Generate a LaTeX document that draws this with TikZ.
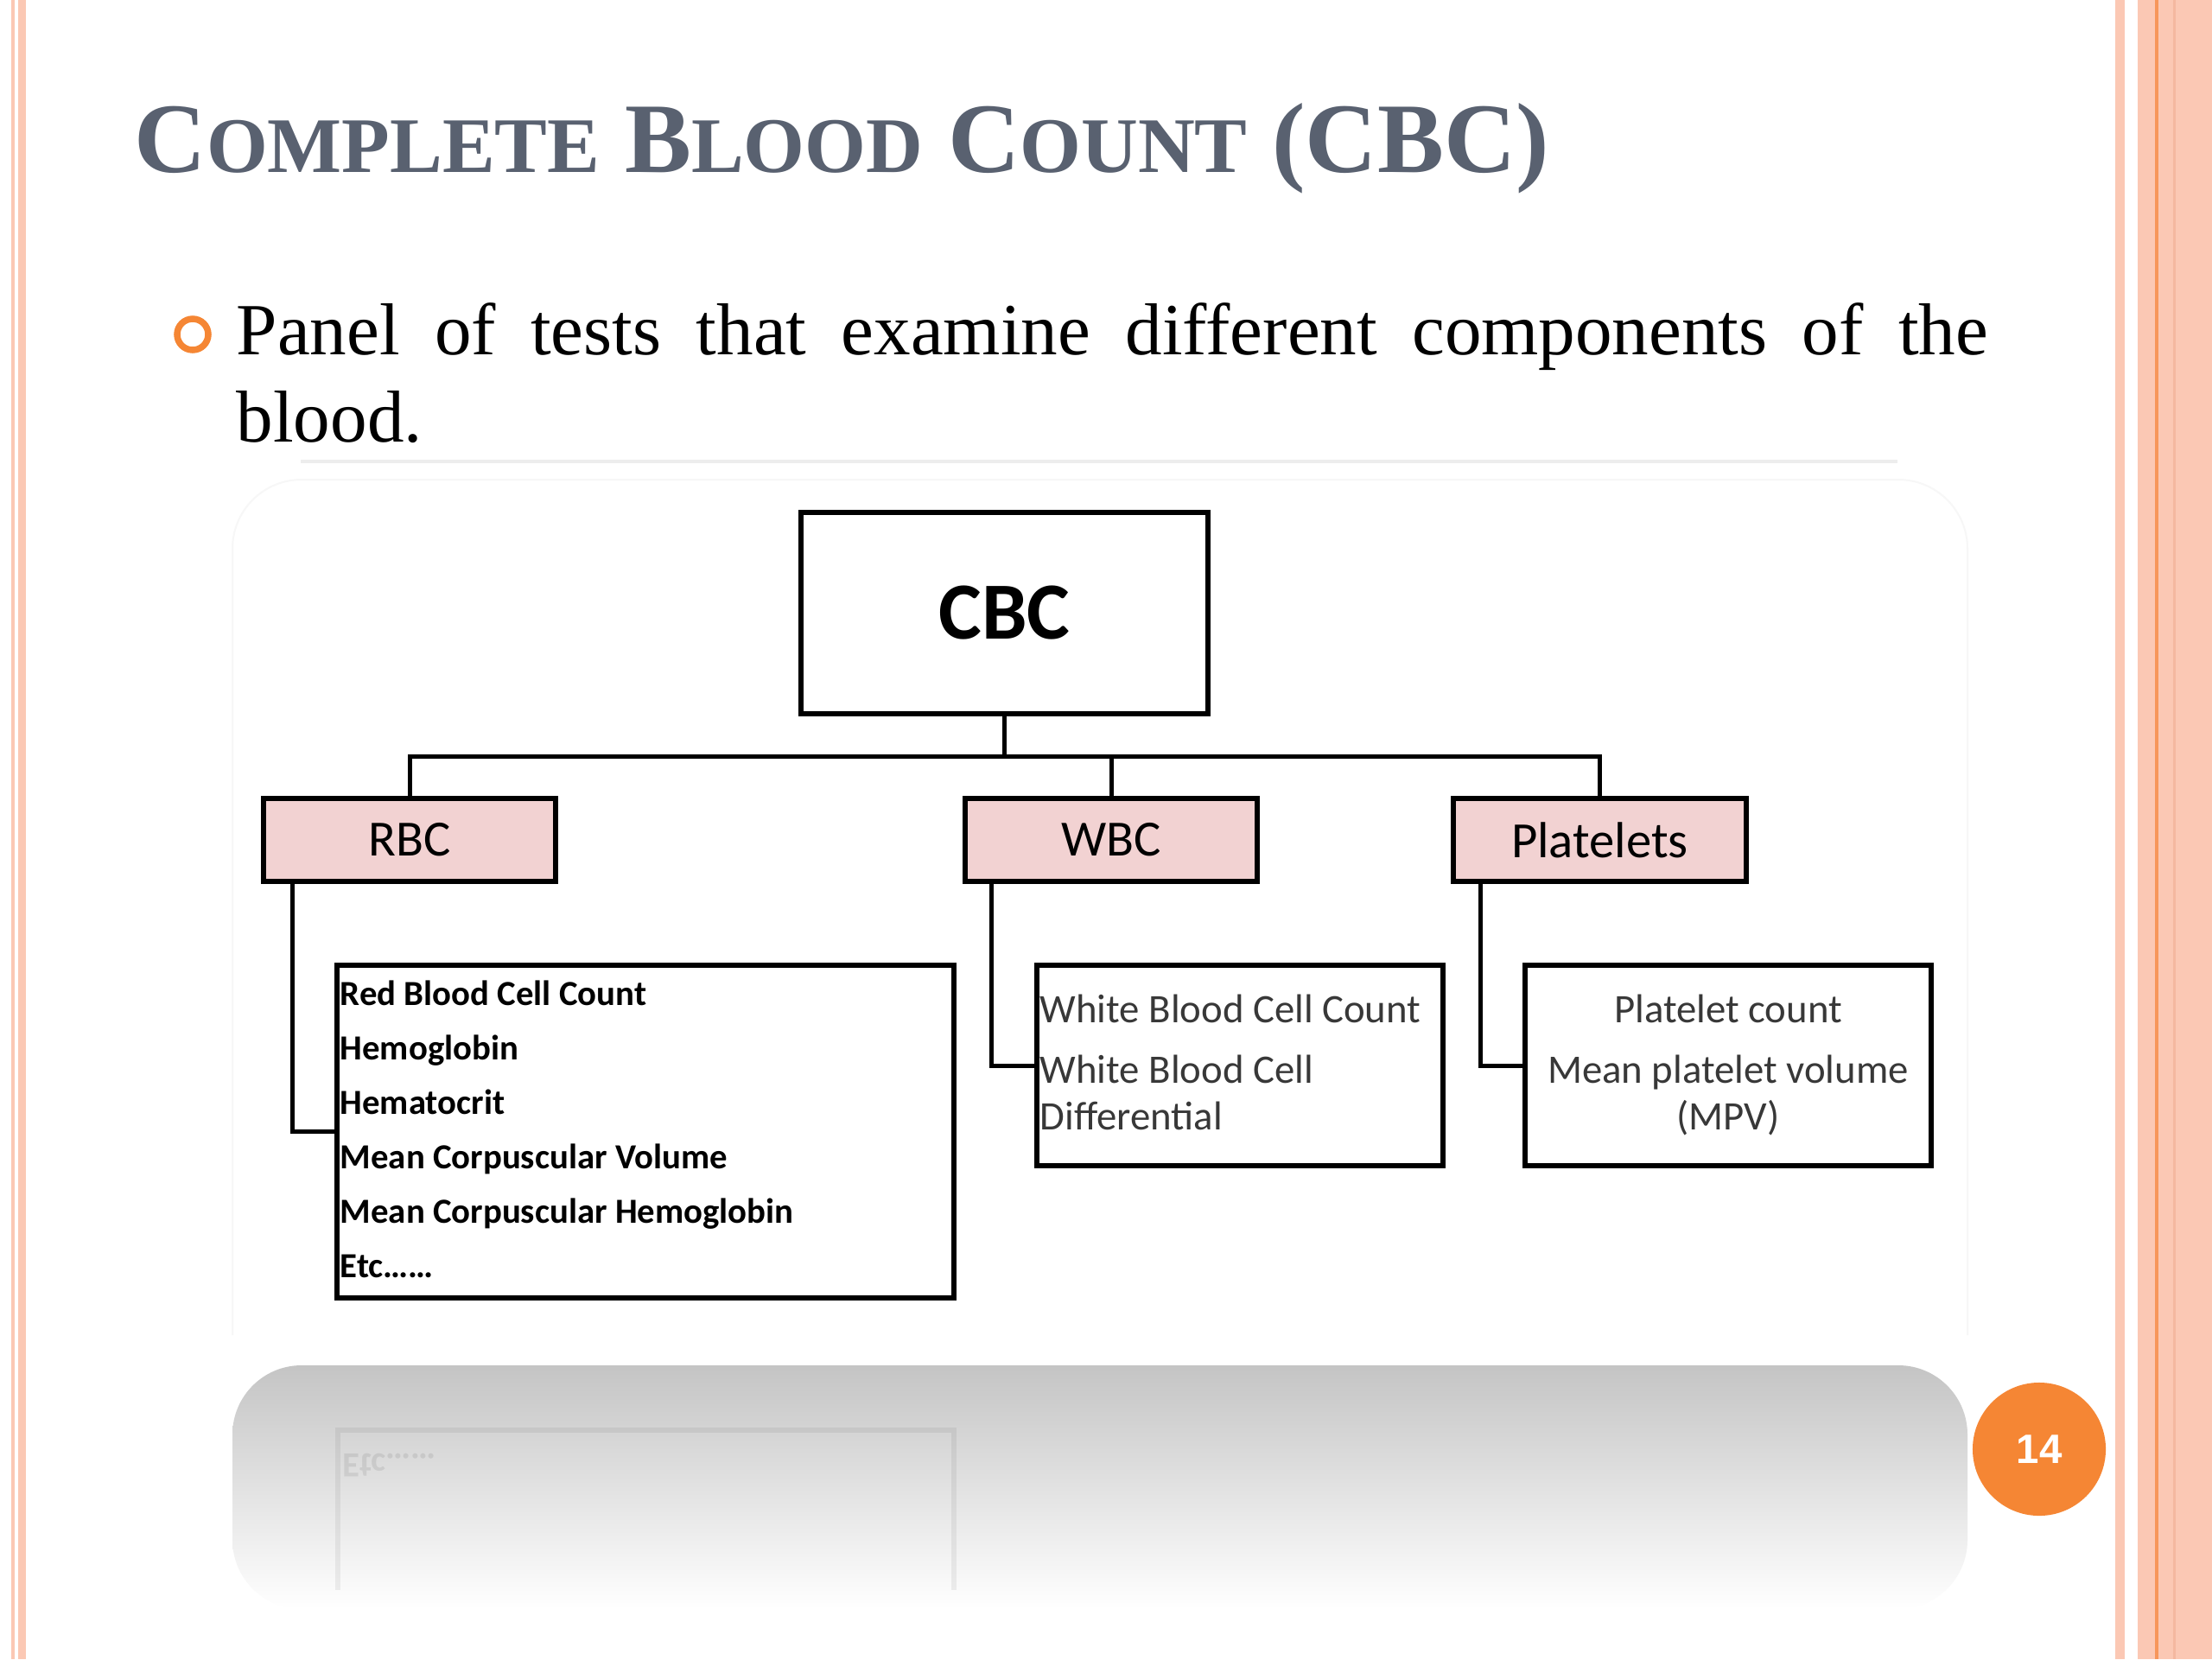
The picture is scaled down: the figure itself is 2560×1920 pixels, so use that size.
\documentclass[tikz,border=0pt]{standalone}
\usepackage{fontspec}
\setmainfont{Liberation Serif}
\newfontfamily\calibri{Carlito}
\newfontfamily\arialfont{Liberation Sans}
\usetikzlibrary{positioning}

\definecolor{titlegray}{RGB}{89,97,112}
\definecolor{slideorange}{RGB}{245,134,52}
\definecolor{peach}{RGB}{251,200,180}
\definecolor{peachdark}{RGB}{244,184,160}
\definecolor{peachline}{RGB}{247,150,90}
\definecolor{boxpink}{RGB}{242,210,210}

\newcommand{\capsmall}[2]{{\fontsize{32.8}{36}\selectfont #1}{\fontsize{25.9}{30}\selectfont #2}}

\begin{document}
\begin{tikzpicture}[x=0.01cm,y=-0.01cm,
	headbox/.style={draw,line width=0.06cm,minimum width=4.71cm,minimum height=2.33cm,font=\calibri\bfseries\fontsize{26.7}{30}\selectfont},
	groupbox/.style={draw,fill=boxpink,line width=0.06cm,minimum width=3.38cm,minimum height=0.96cm,font=\calibri\fontsize{16.7}{20}\selectfont},
	listbox/.style={draw,line width=0.06cm,minimum width=4.69cm,minimum height=2.32cm},
	listtext/.style={inner sep=0pt,anchor=base west,align=left,text=black!78,font=\calibri\fontsize{13.3}{15.1}\selectfont},
	link/.style={line width=0.05cm}]
	\useasboundingbox (0,0) rectangle (2560,1920);
	\fill[white] (0,0) rectangle (2560,1920);
	% slide frame
	\fill[peach] (13,0) rectangle (17,1920);
	\fill[peach] (21,0) rectangle (30,1920);
	\fill[peach] (2448,0) rectangle (2459,1920);
	\fill[peach] (2474,0) rectangle (2560,1920);
	\fill[peachline] (2494,0) rectangle (2498,1920);
	\fill[peachdark] (2515,0) rectangle (2518,1920);
	% title and bullet
	\node[anchor=base west,inner sep=0pt,text=titlegray,font=\bfseries\fontsize{32.8}{36}\selectfont] (title) at (155,199)
		{\capsmall{C}{OMPLETE} \capsmall{B}{LOOD} \capsmall{C}{OUNT} (CBC)};
	\node[circle,draw=slideorange,line width=0.075cm,minimum size=0.36cm,inner sep=0pt] (bullet) at (223,387) {};
	\node[anchor=base west,inner sep=0pt,font=\fontsize{24.2}{28}\selectfont] (line1) at (273,410)
		{\makebox[20.26cm][s]{Panel of tests that examine different components of the}};
	\node[anchor=base west,inner sep=0pt,font=\fontsize{24.2}{28}\selectfont] (line2) at (273,511) {blood.};
	\draw[black!7,line width=0.04cm] (348,534) -- (2196,534);
	\draw[black!3,line width=0.02cm,rounded corners=0.8cm] (269,1545) -- (269,555) -- (2277,555) -- (2277,1545);
	% reflection
	\shade[top color=black!23,middle color=black!15,bottom color=white,rounded corners=0.8cm] (269,1862) -- (269,1580) -- (2277,1580) -- (2277,1862) -- cycle;
	\draw[black,opacity=0.06,line width=0.06cm] (391,1840) -- (391,1655) -- (1104,1655) -- (1104,1840);
	\node[transform shape,yscale=-1,anchor=base west,inner sep=0pt,opacity=0.08,font=\calibri\bfseries\fontsize{11.6}{14}\selectfont] (mirror) at (396,1682) {Etc……};
	% diagram
	\node[headbox] (cbc) at (1162.5,709.5) {CBC};
	\node[groupbox] (rbc) at (474,972) {RBC};
	\node[groupbox] (wbc) at (1286,972) {WBC};
	\node[groupbox] (plt) at (1851.5,972) {Platelets};
	\node[listbox,minimum width=7.14cm,minimum height=3.85cm] (rbclist) at (747,1309.5) {};
	\node[listbox] (wbclist) at (1435,1233) {};
	\node[listbox] (pltlist) at (2000,1233) {};
	\coordinate (bar) at (0,875);
	\draw[link] (cbc.south) -- (cbc.south |- bar);
	\draw[link] (rbc.north) -- (rbc.north |- bar) -- (plt.north |- bar) -- (plt.north);
	\draw[link] (wbc.north) -- (wbc.north |- bar);
	\draw[link] ([xshift=0.37cm]rbc.south west) |- (rbclist.west);
	\draw[link] ([xshift=0.34cm]wbc.south west) |- (wbclist.west);
	\draw[link] ([xshift=0.34cm]plt.south west) |- (pltlist.west);
	\node[listtext,text=black,font=\calibri\bfseries\fontsize{11.6}{17.9}\selectfont] (rbcitems) at (393,1478)
		{Red Blood Cell Count\\Hemoglobin\\Hematocrit\\Mean Corpuscular Volume\\Mean Corpuscular Hemoglobin\\Etc……};
	\node[listtext] (wbcitems) at (1203,1307) {White Blood Cell Count\\[4.8pt]White Blood Cell\\Differential};
	\node[listtext,anchor=base,align=center] (pltitems) at (2000,1307) {Platelet count\\[4.8pt]Mean platelet volume\\(MPV)};
	% page number
	\node[circle,fill=slideorange,minimum size=1.54cm,inner sep=0pt,text=white,font=\arialfont\bfseries\fontsize{13.5}{16}\selectfont] (page) at (2360,1677) {14};
\end{tikzpicture}
\end{document}
